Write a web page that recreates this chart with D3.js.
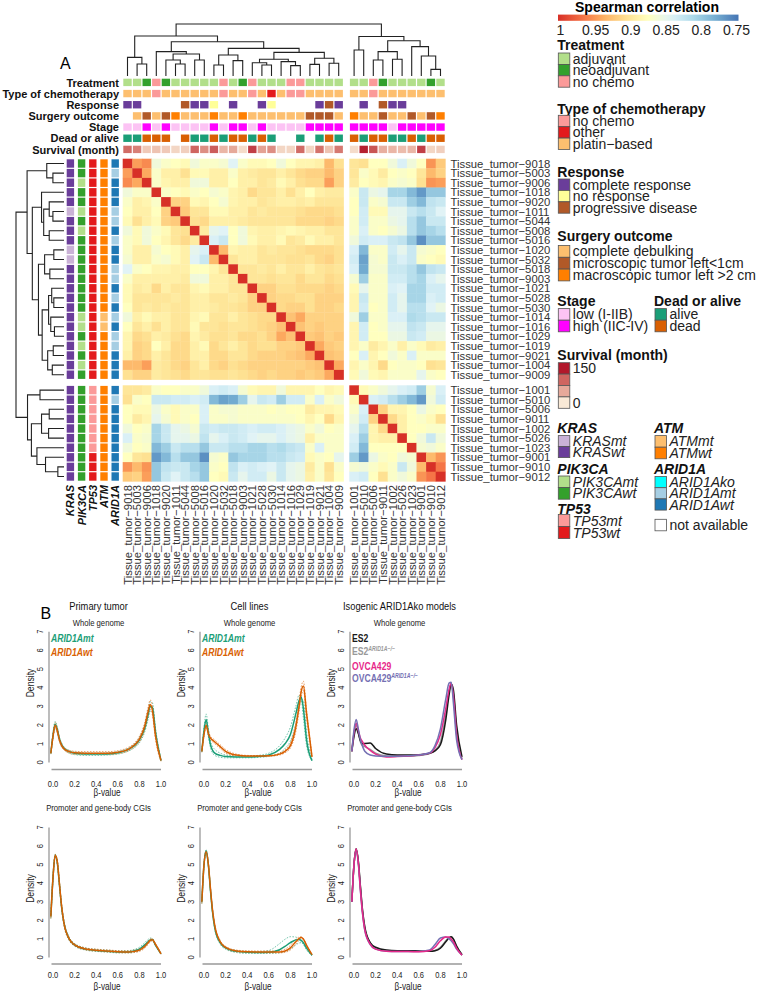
<!DOCTYPE html>
<html><head><meta charset="utf-8">
<script src="https://cdn.jsdelivr.net/npm/d3@7"></script>
<style>
body{margin:0;background:#fff}
svg{display:block}
text{font-family:"Liberation Sans",Arial,Helvetica,sans-serif}
</style>
</head><body>
<svg id="c" width="766" height="991"></svg>
<script>
// ---------------- DATA ----------------
const sampleIds = ["9018","5003","9006","1018","9020","1011","5044","5008","5016","1020","5032","5018","9003","1021","5028","5030","1014","1016","1029","1019","9021","1004","9009","1001","5010","5006","9011","1002","5026","1023","9001","9010","9012"];
const nLeftCluster = 23;

// Spearman correlation, upper triangle (row i holds columns i+1..32)
const corrUpper = [
 [0.945,0.955,0.86,0.87,0.875,0.88,0.86,0.87,0.87,0.865,0.845,0.87,0.88,0.88,0.875,0.86,0.875,0.885,0.885,0.89,0.93,0.905, 0.9,0.905,0.875,0.875,0.86,0.84,0.86,0.875,0.95,0.92],
 [0.94,0.87,0.89,0.89,0.905,0.88,0.88,0.89,0.89,0.87,0.89,0.895,0.9,0.9,0.89,0.9,0.91,0.915,0.915,0.93,0.915, 0.9,0.87,0.88,0.895,0.875,0.87,0.875,0.9,0.93,0.915],
 [0.87,0.885,0.89,0.89,0.86,0.86,0.89,0.89,0.875,0.89,0.89,0.9,0.895,0.88,0.89,0.905,0.91,0.91,0.945,0.915, 0.895,0.875,0.88,0.885,0.87,0.865,0.87,0.905,0.95,0.945],
 [0.87,0.875,0.88,0.87,0.875,0.865,0.87,0.885,0.89,0.91,0.9,0.9,0.89,0.905,0.89,0.875,0.89,0.895,0.895, 0.87,0.83,0.855,0.85,0.81,0.81,0.79,0.77,0.80,0.80],
 [0.915,0.915,0.88,0.885,0.875,0.865,0.885,0.89,0.89,0.9,0.895,0.89,0.89,0.895,0.89,0.9,0.9,0.9, 0.875,0.83,0.87,0.865,0.83,0.83,0.805,0.79,0.825,0.83],
 [0.92,0.9,0.9,0.88,0.88,0.89,0.89,0.9,0.895,0.9,0.9,0.9,0.905,0.91,0.91,0.91,0.905, 0.875,0.835,0.88,0.88,0.85,0.85,0.83,0.82,0.83,0.845],
 [0.905,0.91,0.89,0.89,0.89,0.895,0.9,0.9,0.9,0.9,0.9,0.91,0.91,0.91,0.915,0.91, 0.87,0.835,0.87,0.87,0.855,0.85,0.82,0.8,0.83,0.83],
 [0.895,0.85,0.845,0.875,0.86,0.885,0.89,0.89,0.885,0.88,0.885,0.89,0.89,0.9,0.9, 0.87,0.84,0.87,0.875,0.865,0.855,0.82,0.8,0.81,0.82],
 [0.84,0.83,0.875,0.86,0.88,0.89,0.89,0.88,0.9,0.895,0.88,0.89,0.89,0.9, 0.86,0.835,0.84,0.84,0.83,0.825,0.8,0.765,0.8,0.8],
 [0.93,0.885,0.89,0.89,0.9,0.895,0.9,0.9,0.905,0.91,0.91,0.91,0.905, 0.84,0.79,0.87,0.87,0.835,0.85,0.83,0.865,0.87,0.875],
 [0.9,0.89,0.89,0.9,0.9,0.9,0.905,0.905,0.9,0.91,0.915,0.905, 0.835,0.775,0.865,0.87,0.83,0.84,0.83,0.87,0.875,0.88],
 [0.9,0.9,0.895,0.9,0.89,0.9,0.9,0.89,0.9,0.905,0.9, 0.84,0.78,0.865,0.865,0.83,0.83,0.82,0.8,0.825,0.83],
 [0.9,0.9,0.905,0.9,0.9,0.91,0.9,0.9,0.91,0.905, 0.865,0.805,0.87,0.87,0.835,0.835,0.82,0.81,0.84,0.85],
 [0.915,0.915,0.905,0.905,0.91,0.91,0.91,0.915,0.91, 0.88,0.85,0.87,0.87,0.84,0.845,0.81,0.81,0.835,0.835],
 [0.915,0.91,0.91,0.905,0.905,0.915,0.915,0.915, 0.885,0.83,0.87,0.87,0.835,0.85,0.81,0.81,0.84,0.835],
 [0.91,0.915,0.915,0.905,0.915,0.915,0.91, 0.885,0.835,0.875,0.87,0.835,0.85,0.82,0.82,0.845,0.855],
 [0.925,0.94,0.915,0.915,0.915,0.915, 0.86,0.805,0.87,0.87,0.84,0.84,0.815,0.82,0.83,0.83],
 [0.925,0.915,0.92,0.915,0.915, 0.885,0.835,0.875,0.87,0.85,0.85,0.825,0.83,0.85,0.85],
 [0.92,0.925,0.915,0.92, 0.885,0.835,0.875,0.875,0.855,0.855,0.83,0.835,0.855,0.855],
 [0.94,0.92,0.915, 0.885,0.87,0.895,0.885,0.87,0.89,0.87,0.88,0.895,0.89],
 [0.925,0.92, 0.875,0.84,0.885,0.875,0.86,0.87,0.84,0.87,0.87,0.87],
 [0.94, 0.885,0.87,0.885,0.91,0.875,0.87,0.87,0.875,0.905,0.9],
 [0.88,0.86,0.88,0.885,0.87,0.87,0.87,0.85,0.87,0.875],
 [0.88,0.87,0.86,0.85,0.84,0.835,0.805,0.865,0.84],
 [0.84,0.835,0.82,0.805,0.79,0.77,0.86,0.835],
 [0.915,0.885,0.885,0.875,0.855,0.87,0.875],
 [0.91,0.89,0.875,0.87,0.88,0.905],
 [0.89,0.875,0.875,0.87,0.87],
 [0.875,0.86,0.83,0.86],
 [0.865,0.86,0.87],
 [0.93,0.95],
 [0.965],
 []
];

// hierarchical clustering tree: [mergeHeight, left, right]; leaves = sample index
const clusterTree = [1.0,
  [0.769,
    [0.359, 0, [0.231, 1, 2]],
    [0.660,
      [0.468, 3, [0.423, [0.308, 4, [0.231, 5, 6]], [0.308, 7, 8]]],
      [0.532,
        [0.404, [0.212, 9, 10], [0.295, 11, 12]],
        [0.455,
          [0.321, [0.256, 13, [0.212, 14, 15]], [0.276, 16, [0.199, 17, 18]]],
          [0.340, [0.224, 19, 20], [0.244, 21, 22]]]]]],
  [0.76,
    [0.5, 23, 24],
    [0.679,
      [0.468, [0.308, 25, 26], [0.321, 27, 28]],
      [0.564, 29, [0.385, 30, [0.128, 31, 32]]]]]];

// column annotations (index into category lists, null = not available)
const treatmentCats = ["adjuvant","neoadjuvant","no chemo"];
const treatment = [0,0,1,2,1,0,0,0,0,0,2,0,1,2,0,0,0,2,2,0,0,0,0, 0,0,2,1,0,0,0,0,1,0];
const chemoCats = ["no chemo","other","platin\u2212based"];
const chemo = [2,2,2,0,2,2,2,2,2,2,0,2,2,0,2,1,2,0,0,2,2,2,2, 2,2,0,2,2,2,2,2,2,2];
const responseCats = ["complete response","no response","progressive disease"];
const response = [0,0,null,null,null,null,2,0,0,1,null,0,null,null,0,1,null,null,null,null,0,2,0, null,0,null,2,0,0,null,null,null,null];
const surgeryCats = ["complete debulking","microscopic tumor left<1cm","macroscopic tumor left >2 cm"];
const surgery = [null,0,1,0,1,2,0,0,0,2,0,0,2,0,0,0,0,0,0,1,1,1,0, 2,0,0,1,0,0,1,0,1,2];
const stageCats = ["low (I-IIB)","high (IIC-IV)"];
const stage = [0,0,1,0,1,0,0,0,0,1,0,1,1,0,1,0,0,0,0,1,1,1,1, 1,1,1,1,0,1,1,1,1,1];
const vitalCats = ["alive","dead"];
const vital = [0,0,1,1,1,null,1,0,0,1,0,1,1,0,1,0,null,null,0,null,0,1,0, 1,0,1,1,0,0,1,0,1,1];
const survivalMonths = [95,80,25,30,25,15,20,100,70,105,40,50,10,125,55,70,15,15,95,15,90,30,85, 10,145,110,45,40,35,40,125,15,20];
const survivalTicks = [150,100,50,0];

// row annotations (mutation status)
const mutCats = ["mt","wt"];
const kras   = [1,1,1,1,1,0,1,1,1,0,0,1,1,1,1,1,1,1,1,1,1,1,1, 1,1,1,1,1,1,1,1,1,1];
const pik3ca = [1,1,0,1,1,0,1,0,1,1,1,1,1,1,1,1,0,0,1,0,1,0,1, 1,1,1,1,1,1,1,1,1,1];
const tp53   = [1,1,1,1,1,1,1,1,1,1,1,1,1,1,1,1,1,1,1,1,1,1,1, 0,0,0,0,0,0,0,1,1,1];
const atm    = [1,1,1,1,1,1,1,1,1,1,1,1,1,1,1,1,0,0,1,1,1,1,1, 1,1,1,1,1,1,1,1,1,1];
const arid1aCats = ["ko","mt","wt"];
const arid1a = [2,1,2,2,2,1,1,2,1,2,2,1,1,2,1,2,1,2,1,1,2,2,2, 2,1,2,2,2,2,2,2,2,2];

const corrTicks = [1,0.95,0.9,0.85,0.8,0.75];

// ---- Panel B: beta-value density curves ----
const betaGrid = [-0.02,0,0.02,0.04,0.06,0.08,0.1,0.15,0.2,0.3,0.4,0.5,0.6,0.7,0.75,0.8,0.85,0.88,0.9,0.92,0.95,1.0];
const betaTicks = [0,0.2,0.4,0.6,0.8,1.0];
const densTicks = [0,1,2,3,4,5,6,7];
// primary tumor, whole genome
const ptWgMt   = [0.5,1.45,2.05,1.75,1.25,0.95,0.78,0.58,0.5,0.46,0.45,0.46,0.52,0.7,0.88,1.2,1.85,2.55,3.0,2.95,1.6,0.1];
const ptWgMtHi = [0.55,1.6,2.2,1.9,1.35,1.05,0.85,0.65,0.56,0.52,0.5,0.52,0.58,0.78,0.98,1.35,2.05,2.8,3.25,3.2,1.8,0.15];
const ptWgMtLo = [0.45,1.3,1.9,1.6,1.15,0.85,0.7,0.5,0.42,0.38,0.38,0.4,0.45,0.62,0.78,1.05,1.65,2.3,2.75,2.7,1.4,0.05];
const ptWgWt   = [0.5,1.4,2.0,1.7,1.2,0.92,0.75,0.58,0.52,0.5,0.5,0.5,0.55,0.72,0.92,1.25,1.95,2.7,3.1,2.8,1.4,0.1];
const ptWgWtHi = [0.55,1.5,2.15,1.85,1.3,1.0,0.82,0.65,0.6,0.58,0.58,0.58,0.63,0.82,1.02,1.4,2.15,2.95,3.35,3.05,1.6,0.15];
const ptWgWtLo = [0.45,1.3,1.85,1.55,1.1,0.82,0.68,0.5,0.44,0.42,0.42,0.42,0.47,0.62,0.8,1.1,1.75,2.45,2.85,2.55,1.2,0.05];
// cell lines, whole genome
const clWgMt   = [0.6,1.7,2.3,1.6,0.95,0.65,0.5,0.38,0.32,0.3,0.3,0.32,0.4,0.7,1.0,1.5,2.6,3.3,3.5,2.9,1.2,0.1];
const clWgMtHi = [0.65,1.9,2.6,1.85,1.15,0.85,0.7,0.5,0.4,0.35,0.35,0.38,0.5,0.9,1.3,1.9,3.0,3.6,3.4,2.4,0.9,0.1];
const clWgMtLo = [0.55,1.5,2.0,1.4,0.8,0.5,0.38,0.28,0.25,0.25,0.25,0.27,0.33,0.5,0.75,1.15,2.1,2.9,3.4,3.3,1.6,0.15];
const clWgWt   = [0.6,1.5,2.0,1.55,1.3,1.2,1.1,0.85,0.6,0.4,0.35,0.35,0.36,0.45,0.6,0.9,1.9,3.0,3.8,4.1,2.6,0.3];
const clWgWtHi = [0.65,1.6,2.1,1.7,1.4,1.3,1.2,0.95,0.7,0.45,0.38,0.37,0.38,0.5,0.68,1.05,2.1,3.3,4.05,4.35,2.8,0.35];
const clWgWtLo = [0.55,1.4,1.9,1.45,1.2,1.1,1.0,0.75,0.5,0.35,0.32,0.32,0.33,0.4,0.52,0.78,1.65,2.7,3.5,3.85,2.4,0.25];
// isogenic models, whole genome
const isoWgES2   = [0.6,1.4,1.8,1.55,1.15,1.0,1.02,1.05,0.75,0.45,0.4,0.4,0.42,0.5,0.62,0.95,2.3,3.6,4.2,3.9,2.0,0.3];
const isoWgES2ko = [0.6,1.5,2.0,1.6,1.1,0.9,0.85,0.7,0.5,0.35,0.33,0.34,0.38,0.48,0.65,1.1,2.6,3.8,4.2,3.7,1.7,0.2];
const isoWgOV    = [0.6,1.6,2.1,1.7,1.3,1.1,0.92,0.65,0.45,0.3,0.32,0.35,0.4,0.5,0.8,1.5,2.9,3.9,4.25,3.6,1.5,0.15];
const isoWgOVko  = [0.6,1.75,2.3,1.8,1.2,0.85,0.6,0.4,0.35,0.33,0.34,0.36,0.4,0.52,0.9,1.8,3.4,4.25,4.3,3.2,1.2,0.15];
// primary tumor, CGIs
const ptCgiMt   = [2.2,4.3,5.5,5.1,3.9,2.7,1.9,1.0,0.68,0.45,0.38,0.34,0.3,0.3,0.35,0.45,0.68,0.85,0.95,0.97,0.65,0.2];
const ptCgiMtHi = [2.3,4.4,5.55,5.2,4.0,2.8,2.0,1.08,0.75,0.52,0.44,0.4,0.36,0.37,0.43,0.55,0.8,0.97,1.05,1.02,0.68,0.22];
const ptCgiMtLo = [2.1,4.2,5.45,5.0,3.8,2.6,1.8,0.92,0.62,0.4,0.33,0.29,0.25,0.25,0.28,0.36,0.56,0.74,0.86,0.92,0.62,0.18];
const ptCgiWt   = [2.2,4.3,5.5,5.15,3.95,2.75,1.9,1.0,0.68,0.46,0.39,0.35,0.31,0.3,0.33,0.4,0.6,0.8,0.92,0.96,0.7,0.2];
const ptCgiWtHi = [2.3,4.4,5.55,5.25,4.05,2.85,2.0,1.08,0.75,0.52,0.45,0.41,0.37,0.36,0.4,0.48,0.7,0.9,1.0,1.02,0.74,0.22];
const ptCgiWtLo = [2.1,4.2,5.45,5.05,3.85,2.65,1.8,0.92,0.62,0.41,0.34,0.3,0.26,0.25,0.27,0.33,0.5,0.7,0.84,0.9,0.66,0.18];
// cell lines, CGIs
const clCgiMt   = [3.0,5.0,5.75,5.0,3.6,2.4,1.6,0.8,0.52,0.33,0.28,0.27,0.28,0.42,0.6,0.8,0.95,0.97,0.92,0.8,0.5,0.12];
const clCgiMtHi = [3.0,5.05,5.8,5.1,3.7,2.5,1.7,0.88,0.58,0.38,0.33,0.32,0.38,0.75,0.98,1.12,1.1,0.98,0.85,0.7,0.4,0.1];
const clCgiMtLo = [2.9,4.9,5.7,4.9,3.5,2.3,1.5,0.72,0.45,0.27,0.22,0.22,0.22,0.25,0.32,0.45,0.68,0.78,0.8,0.78,0.55,0.14];
const clCgiWt   = [3.0,5.0,5.7,5.05,3.7,2.5,1.7,0.85,0.55,0.35,0.31,0.3,0.3,0.3,0.35,0.52,0.85,1.02,1.08,1.0,0.65,0.15];
const clCgiWtHi = [3.0,5.05,5.75,5.15,3.8,2.6,1.8,0.92,0.6,0.4,0.36,0.35,0.35,0.37,0.45,0.65,0.98,1.1,1.12,1.02,0.66,0.15];
const clCgiWtLo = [2.9,4.95,5.65,4.95,3.6,2.4,1.6,0.78,0.5,0.3,0.27,0.26,0.25,0.25,0.28,0.4,0.72,0.92,1.02,0.98,0.64,0.15];
// isogenic models, CGIs
const isoCgiES2   = [3.0,5.0,5.85,5.2,3.8,2.5,1.65,0.8,0.55,0.4,0.37,0.37,0.35,0.33,0.36,0.5,0.85,1.05,1.12,1.0,0.62,0.15];
const isoCgiES2ko = [3.0,5.0,5.8,5.15,3.75,2.45,1.6,0.78,0.52,0.38,0.35,0.35,0.34,0.33,0.38,0.55,0.9,1.08,1.1,0.98,0.6,0.15];
const isoCgiOV    = [3.0,5.0,5.85,5.1,3.6,2.35,1.5,0.72,0.45,0.33,0.32,0.32,0.31,0.36,0.55,0.9,1.1,1.1,1.0,0.85,0.5,0.12];
const isoCgiOVko  = [3.0,5.0,5.8,5.05,3.55,2.3,1.45,0.7,0.45,0.33,0.32,0.32,0.32,0.4,0.7,1.05,1.1,1.0,0.9,0.75,0.45,0.12];

// ---------------- COLOURS ----------------
const RdYlBu = ["#d73027","#f46d43","#fdae61","#fee090","#ffffbf","#e0f3f8","#abd9e9","#74add1","#4575b4"];
const colTreatment = ["#b2df8a","#33a02c","#fb9a99"];
const colChemo = ["#fb9a99","#e31a1c","#fdbf6f"];
const colResponse = ["#6a3d9a","#ffff99","#b15928"];
const colSurgery = ["#fdbf6f","#b15928","#ff7f00"];
const colStage = ["#fcc3f4","#ff00ff"];
const colVital = ["#1b9e77","#d95f02"];
const colKras = ["#cab2d6","#6a3d9a"];
const colPik = ["#b2df8a","#33a02c"];
const colTp53 = ["#fb9a99","#e31a1c"];
const colAtm = ["#fdbf6f","#ff7f00"];
const colArid = ["#00ffff","#a6cee3","#1f78b4"];
const GREEN = "#1b9e77", ORANGE = "#d95f02";

// ---------------- DRAW ----------------
const svg = d3.select("#c");
const N = sampleIds.length;
const labels = sampleIds.map(s => "Tissue_tumor\u2212" + s);
const M = Array.from({length:N}, () => new Array(N).fill(1));
corrUpper.forEach((row,i) => row.forEach((v,k) => { const j = i+1+k; M[i][j] = v; M[j][i] = v; }));

const cell = 9.6, gap = 5.8, hx0 = 122.7, hy0 = 158.7;
const band = d3.scaleBand().domain(d3.range(N)).range([0, N*cell]);
const px = i => hx0 + band(i) + (i >= nLeftCluster ? gap : 0);
const py = i => hy0 + band(i) + (i >= nLeftCluster ? gap : 0);
const corrColor = d3.scaleLinear().domain(d3.range(9).map(k => 1 - k*0.03125)).range(RdYlBu).clamp(true);

// heatmap
const gH = svg.append("g");
for (let i=0;i<N;i++) for (let j=0;j<N;j++) {
  gH.append("rect").attr("x", px(j)).attr("y", py(i))
    .attr("width", cell+0.35).attr("height", cell+0.35)
    .attr("fill", corrColor(M[i][j]));
}

// dendrograms
function drawTree(node, g, leafPos, hPos, vertical) {
  if (typeof node === "number") return {p: leafPos(node), h: 0};
  const [h, l, r] = node;
  const a = drawTree(l, g, leafPos, hPos, vertical);
  const b = drawTree(r, g, leafPos, hPos, vertical);
  let d;
  if (vertical) d = `M${a.p},${hPos(a.h)}V${hPos(h)}H${b.p}V${hPos(b.h)}`;
  else d = `M${hPos(a.h)},${a.p}H${hPos(h)}V${b.p}H${hPos(b.h)}`;
  g.append("path").attr("d", d).attr("fill","none").attr("stroke","#222").attr("stroke-width",1.1);
  return {p: (a.p+b.p)/2, h};
}
const gT = svg.append("g");
drawTree(clusterTree, gT, i => px(i)+cell/2, d3.scaleLinear().domain([0,1]).range([76,24]), true);
drawTree(clusterTree, gT, i => py(i)+cell/2, d3.scaleLinear().domain([0,1]).range([64,16]), false);

// top annotations
const survColor = d3.scaleLinear().domain([0,50,100,150]).range(["#f9e9d6","#e6a99a","#cf6560","#b2182b"]);
const topAnn = [
  {name:"Treatment", vals:treatment, col:v => colTreatment[v]},
  {name:"Type of chemotherapy", vals:chemo, col:v => colChemo[v]},
  {name:"Response", vals:response, col:v => colResponse[v]},
  {name:"Surgery outcome", vals:surgery, col:v => colSurgery[v]},
  {name:"Stage", vals:stage, col:v => colStage[v]},
  {name:"Dead or alive", vals:vital, col:v => colVital[v]},
  {name:"Survival (month)", vals:survivalMonths, col:v => survColor(v)}
];
const annY = d3.scaleLinear().domain([0,6]).range([78.7,145.7]);
topAnn.forEach((a,k) => {
  const y = annY(k);
  svg.append("text").attr("x",119).attr("y",y+7.9).attr("text-anchor","end")
    .attr("font-size",11).attr("font-weight","bold").attr("fill","#111").text(a.name);
  a.vals.forEach((v,j) => {
    if (v === null) return;
    svg.append("rect").attr("x",px(j)+0.6).attr("y",y).attr("width",cell-1.2).attr("height",7.4).attr("fill",a.col(v));
  });
});

// left (row) annotations
const leftAnn = [
  {name:"KRAS", vals:kras, cols:colKras},
  {name:"PIK3CA", vals:pik3ca, cols:colPik},
  {name:"TP53", vals:tp53, cols:colTp53},
  {name:"ATM", vals:atm, cols:colAtm},
  {name:"ARID1A", vals:arid1a, cols:colArid}
];
const annX = d3.scaleLinear().domain([0,4]).range([66.7,111.5]);
leftAnn.forEach((a,k) => {
  const x = annX(k);
  a.vals.forEach((v,i) => {
    if (v === null) return;
    svg.append("rect").attr("x",x).attr("y",py(i)+0.6).attr("width",7.4).attr("height",cell-1.2).attr("fill",a.cols[v]);
  });
  svg.append("text").attr("transform",`translate(${x+3.7},485) rotate(-90)`).attr("dy","0.36em")
    .attr("text-anchor","end").attr("font-size",11).attr("font-weight","bold").attr("font-style","italic")
    .attr("fill","#111").text(a.name);
});

// row and column labels
labels.forEach((lab,i) => {
  svg.append("text").attr("x",450.5).attr("y",py(i)+cell/2).attr("dy","0.36em")
    .attr("font-size",11.3).attr("fill","#333").text(lab);
  svg.append("text").attr("transform",`translate(${px(i)+cell/2},485) rotate(-90)`).attr("dy","0.36em")
    .attr("text-anchor","end").attr("font-size",11.3).attr("fill","#333").text(lab);
});

// panel label
svg.append("text").attr("x",60).attr("y",68.5).attr("font-size",16).text("A");

// ---- colour bar legend ----
const cbX = d3.scaleLinear().domain([1,0.75]).range([560.5,736.5]);
const defs = svg.append("defs");
const grad = defs.append("linearGradient").attr("id","cbg").attr("x1","0%").attr("x2","100%");
d3.range(0,1.0001,0.05).forEach(t => {
  grad.append("stop").attr("offset",(t*100)+"%").attr("stop-color",corrColor(1 - t*0.25));
});
svg.append("rect").attr("x",cbX(1)-2.5).attr("y",14.6).attr("width",cbX(0.75)-cbX(1)+4.5).attr("height",6.2).attr("fill","url(#cbg)");
svg.append("text").attr("x",647).attr("y",12).attr("text-anchor","middle").attr("font-size",14).attr("font-weight","bold").text("Spearman correlation");
corrTicks.forEach(t => {
  svg.append("text").attr("x",cbX(t)).attr("y",35).attr("text-anchor","middle").attr("font-size",14).attr("fill","#222").text(String(t));
});

// ---- discrete legends ----
function legendGroup(x, titleY, boxTop, boxH, title, items, opts={}) {
  const g = svg.append("g");
  const t = g.append("text").attr("x",x-1).attr("y",titleY).attr("font-size",14).attr("font-weight","bold").attr("fill","#111").text(title);
  if (opts.italicTitle) t.attr("font-style","italic");
  items.forEach((it,k) => {
    const y = boxTop + k*boxH;
    g.append("rect").attr("x",x).attr("y",y).attr("width",11.5).attr("height",boxH)
      .attr("fill",it.color).attr("stroke","#555").attr("stroke-width",0.8);
    if (it.label !== null) {
      const tx = g.append("text").attr("x",x+14.5).attr("y",y+boxH/2+5).attr("font-size",14).attr("fill","#222").text(it.label);
      if (opts.italicItems) tx.attr("font-style","italic");
    }
  });
}
const L1 = 558.3, L2 = 655;
legendGroup(L1, 50, 53, 11.4, "Treatment", treatmentCats.map((c,k)=>({label:c,color:colTreatment[k]})));
legendGroup(L1, 113.5, 115.3, 11.4, "Type of chemotherapy", chemoCats.map((c,k)=>({label:c,color:colChemo[k]})));
legendGroup(L1, 177, 179, 11.4, "Response", responseCats.map((c,k)=>({label:c,color:colResponse[k]})));
legendGroup(L1, 240.5, 245.5, 11.8, "Surgery outcome", surgeryCats.map((c,k)=>({label:c,color:colSurgery[k]})));
legendGroup(L1, 305.5, 308.6, 11.6, "Stage", stageCats.map((c,k)=>({label:c,color:colStage[k]})));
legendGroup(L2, 305.5, 308.6, 11.6, "Dead or alive", vitalCats.map((c,k)=>({label:c,color:colVital[k]})));
legendGroup(L1, 360, 362.7, 11.4, "Survival (month)", survivalTicks.map((v,k)=>({label:(k===0||k===3)?String(v):null, color:survColor(v)})));
legendGroup(L1, 433, 435.6, 11.0, "KRAS", mutCats.map((c,k)=>({label:"KRAS"+c,color:colKras[k]})), {italicTitle:true, italicItems:true});
legendGroup(L1, 474, 476, 11.6, "PIK3CA", mutCats.map((c,k)=>({label:"PIK3CA"+c,color:colPik[k]})), {italicTitle:true, italicItems:true});
legendGroup(L1, 513.5, 514.6, 12.0, "TP53", mutCats.map((c,k)=>({label:"TP53"+c,color:colTp53[k]})), {italicTitle:true, italicItems:true});
legendGroup(L2, 433, 435.6, 11.6, "ATM", mutCats.map((c,k)=>({label:"ATM"+c,color:colAtm[k]})), {italicTitle:true, italicItems:true});
legendGroup(L2, 474, 476.5, 11.2, "ARID1A", arid1aCats.map((c,k)=>({label:"ARID1A"+c,color:colArid[k]})), {italicTitle:true, italicItems:true});
svg.append("rect").attr("x",L2).attr("y",519.3).attr("width",11.5).attr("height",11.5).attr("fill","#fff").attr("stroke","#555").attr("stroke-width",0.8);
svg.append("text").attr("x",L2+14.5).attr("y",530).attr("font-size",14).attr("fill","#222").text("not available");

// ---------------- PANEL B ----------------
const SX = 0.82; // narrow font
function ntext(x, y, str, size, o={}) {
  const t = svg.append("text")
    .attr("transform", `translate(${x},${y})` + (o.rot ? " rotate(-90)" : "") + ` scale(${SX},1)`)
    .attr("font-size", size).attr("fill", o.fill || "#111")
    .attr("text-anchor", o.anchor || "start");
  if (o.bold) t.attr("font-weight","bold");
  if (o.italic) t.attr("font-style","italic");
  if (o.dy) t.attr("dy", o.dy);
  t.text(str);
  return t;
}
svg.append("text").attr("x",40.5).attr("y",618.5).attr("font-size",16).text("B");

const colX0 = [53, 204, 354];
const rows = [
  {y0:762.5, y7:631.7, axisY:769.5, tickY:786.8, labY:796, densY:683, subY:626, sub:"Whole genome"},
  {y0:957.5, y7:827.5, axisY:964, tickY:977.8, labY:990, densY:888.5, subY:810.5, sub:"Promoter and gene-body CGIs"}
];
const colTitles = ["Primary tumor","Cell lines","Isogenic ARID1Ako models"];

function densityPlot(c, r, series) {
  const x0 = colX0[c], R = rows[r];
  const x = d3.scaleLinear().domain([0,1]).range([x0, x0+108]);
  const y = d3.scaleLinear().domain([0,7]).range([R.y0, R.y7]);
  // axes
  svg.append("line").attr("x1",x0-4).attr("x2",x0-4).attr("y1",y(0)).attr("y2",y(7)).attr("stroke","#999").attr("stroke-width",1.3);
  svg.append("line").attr("x1",x(0)-1.5).attr("x2",x(1)).attr("y1",R.axisY).attr("y2",R.axisY).attr("stroke","#999").attr("stroke-width",1.3);
  densTicks.forEach(v => ntext(x0-13.5, y(v), String(v), 9.2, {rot:true, anchor:"middle", dy:"0.35em", fill:"#222"}));
  betaTicks.forEach(v => ntext(x(v), R.tickY, d3.format(".1f")(v), 9.2, {anchor:"middle", fill:"#222"}));
  ntext(x(0.5), R.labY, "\u03b2-value", 10, {anchor:"middle", fill:"#222"});
  ntext(x0-22.3, R.densY, "Density", 10.5, {rot:true, anchor:"middle", dy:"0.35em", fill:"#222"});
  ntext(x0+45.5, R.subY, R.sub, 9.4, {anchor:"middle", fill:"#222"});
  if (r === 0) ntext(x0+45.5, 609.5, colTitles[c], 11.4, {anchor:"middle", fill:"#111"});
  const line = d3.line().x((d,i) => x(betaGrid[i])).y(d => y(d)).curve(d3.curveMonotoneX);
  series.forEach(s => {
    svg.append("path").attr("d", line(s.v)).attr("fill","none").attr("stroke", s.color)
      .attr("stroke-width", s.dash ? 0.8 : 1.5)
      .attr("stroke-dasharray", s.dash ? "1.6,1.4" : null)
      .attr("opacity", s.dash ? 0.75 : 1);
  });
}
const pair = (mt, mtHi, mtLo, wt, wtHi, wtLo) => [
  {v:mtHi,color:GREEN,dash:true},{v:mtLo,color:GREEN,dash:true},
  {v:wtHi,color:ORANGE,dash:true},{v:wtLo,color:ORANGE,dash:true},
  {v:mt,color:GREEN},{v:wt,color:ORANGE}
];
const ISO = {es2:"#1a1a1a", es2ko:"#999999", ov:"#e7298a", ovko:"#7570b3"};
densityPlot(0, 0, pair(ptWgMt,ptWgMtHi,ptWgMtLo,ptWgWt,ptWgWtHi,ptWgWtLo));
densityPlot(1, 0, pair(clWgMt,clWgMtHi,clWgMtLo,clWgWt,clWgWtHi,clWgWtLo));
densityPlot(2, 0, [{v:isoWgES2ko,color:ISO.es2ko},{v:isoWgES2,color:ISO.es2},{v:isoWgOV,color:ISO.ov},{v:isoWgOVko,color:ISO.ovko}]);
densityPlot(0, 1, pair(ptCgiMt,ptCgiMtHi,ptCgiMtLo,ptCgiWt,ptCgiWtHi,ptCgiWtLo));
densityPlot(1, 1, pair(clCgiMt,clCgiMtHi,clCgiMtLo,clCgiWt,clCgiWtHi,clCgiWtLo));
densityPlot(2, 1, [{v:isoCgiES2ko,color:ISO.es2ko},{v:isoCgiES2,color:ISO.es2},{v:isoCgiOVko,color:ISO.ovko},{v:isoCgiOV,color:ISO.ov}]);

// legends inside plots
[0,1].forEach(c => {
  ntext(colX0[c]-2, 641.5, "ARID1Amt", 10.5, {bold:true, italic:true, fill:GREEN});
  ntext(colX0[c]-2, 656, "ARID1Awt", 10.5, {bold:true, italic:true, fill:ORANGE});
});
function isoLabel(y, base, color) {
  return ntext(colX0[2]-2, y, base, 10.5, {bold:true, fill:color});
}
isoLabel(641.5, "ES2", ISO.es2);
const t2 = isoLabel(654.5, "ES2", ISO.es2ko);
t2.append("tspan").attr("dy",-4).attr("font-size",6.3).attr("font-style","italic").text("ARID1A\u2212/\u2212");
isoLabel(669.5, "OVCA429", ISO.ov);
const t4 = isoLabel(682, "OVCA429", ISO.ovko);
t4.append("tspan").attr("dy",-4).attr("font-size",6.3).attr("font-style","italic").text("ARID1A\u2212/\u2212");
</script>
</body></html>
